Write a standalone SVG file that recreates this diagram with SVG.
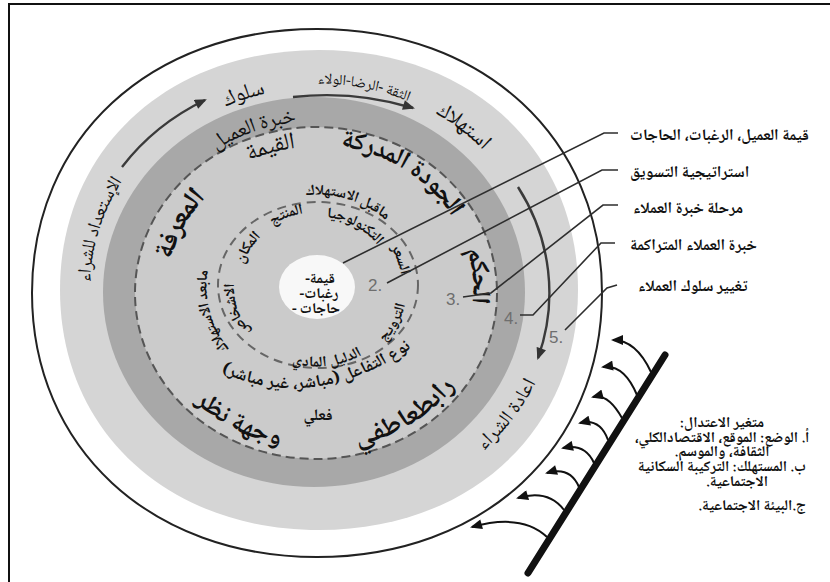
<svg xmlns="http://www.w3.org/2000/svg" xmlns:xlink="http://www.w3.org/1999/xlink" width="830" height="582" viewBox="0 0 830 582">
  <style>
    .ar { font-family: "Noto Naskh Arabic", "Noto Sans Arabic", "DejaVu Sans", sans-serif; fill: #111; }
    .b { font-weight: bold; }
    .mid { text-anchor: middle; dominant-baseline: central; }
    .num { font-family: "Liberation Sans", Arial, sans-serif; font-size: 17px; fill: #6e6e6e; }
    .lead { fill: none; stroke: #2e2e2e; stroke-width: 1.6; }
    .ring-arrow { fill: none; stroke: #3a3a3a; stroke-width: 2.4; marker-end: url(#ah); }
    .wall-arrow { fill: none; stroke: #111; stroke-width: 2; marker-end: url(#ahk); }
  </style>
  <defs>
    <marker id="ah" viewBox="0 0 12 10" refX="10" refY="5" markerWidth="13" markerHeight="10" markerUnits="userSpaceOnUse" orient="auto">
      <path d="M0,0 L12,5 L0,10 z" fill="#333"/>
    </marker>
    <marker id="ahk" viewBox="0 0 12 10" refX="10" refY="5" markerWidth="13" markerHeight="10" markerUnits="userSpaceOnUse" orient="auto">
      <path d="M0,0 L12,5 L0,10 z" fill="#111"/>
    </marker>
    <!-- baseline paths for curved labels -->
    <path id="p-ready" d="M106,376 A231,214 0 0,1 187.8,111.6"/>
    <path id="p-behav" d="M161.4,142.1 A222,206 0 0,1 338.3,83.9"/>
    <path id="p-trust" d="M266.6,85.5 A227.6,208.7 0 0,1 454.6,123.2"/>
    <path id="p-consume" d="M377,84.4 A229,212 0 0,1 524.9,200.1"/>
    <path id="p-rebuy" d="M417.2,488 A237,219.6 0 0,0 553.1,308.1"/>
    <path id="p-exp" d="M184.1,167.7 A186.6,172.8 0 0,1 332,116.8"/>
    <path id="p-value" d="M220.5,170.4 A160.4,148.5 0 0,1 325.4,140.7"/>
    <path id="p-quality" d="M288.9,141.3 A162,150 0 0,1 476.5,263"/>
    <path id="p-judge" d="M463.8,225.6 A162,150 0 0,1 473.5,327.8"/>
    <path id="p-bond" d="M298.6,443.1 A167.5,155 0 0,0 477.8,332.5"/>
    <path id="p-view" d="M161.5,342.9 A166,154 0 0,0 347.2,440.4"/>
    <path id="p-know" d="M162.1,284 A155,143 0 0,1 221.6,176.3"/>
    <path id="p-pre" d="M279.9,198.3 A102.7,95.1 0 0,1 404.8,237.7"/>
    <path id="p-post" d="M250.1,371.7 A113.3,104.9 0 0,1 215.3,240.7"/>
    <path id="p-inter" d="M192,350 Q305,430 438,324"/>
    <path id="p-tech" d="M311.3,214 A78,72.2 0 0,1 388.1,256.4"/>
    <path id="p-prod" d="M261.7,229.1 A82.7,76.6 0 0,1 314.1,209.4"/>
    <path id="p-place" d="M238.1,272.2 A80.3,74.3 0 0,1 266.1,228.5"/>
    <path id="p-people" d="M253.6,339.8 A86,79.6 0 0,1 231.7,275.6"/>
    <path id="p-price" d="M385.4,235.2 A87.7,81.2 0 0,1 404.7,287.8"/>
    <path id="p-promo" d="M370.8,350 A87.6,81.1 0 0,0 404.5,289"/>
    <path id="p-phys" d="M271.9,351.5 A83.9,77.7 0 0,0 378.9,338.5"/>
  </defs>

  <rect width="830" height="582" fill="#fff"/>
  <!-- frame (open at right and bottom) -->
  <path d="M9,582 L9,4 L830,4" fill="none" stroke="#111" stroke-width="2"/>

  <!-- concentric bands -->
  <g id="rings">
    <path id="outer-boundary" d="M602,293 C602,447.4 483.7,557 317,557 C150.3,557 32,447.4 32,293 C32,138.6 150.3,29 317,29 C483.7,29 602,138.6 602,293 Z" fill="#fff" stroke="#222" stroke-width="2"/>
    <path id="band-behaviour" d="M578,290 C578,430.4 470.5,530 319,530 C167.5,530 60,430.4 60,290 C60,149.6 167.5,50 319,50 C470.5,50 578,149.6 578,290 Z" fill="#d5d5d5"/>
    <ellipse id="band-experience" cx="314" cy="292" rx="211" ry="195" fill="#a8a8a8"/>
    <ellipse id="band-evaluation" cx="316" cy="293" rx="181" ry="166" fill="#cbcbcb" stroke="#555" stroke-width="2" stroke-dasharray="9 5"/>
    <ellipse id="band-mix" cx="318" cy="285" rx="100" ry="83" fill="none" stroke="#666" stroke-width="2" stroke-dasharray="9 6"/>
  </g>

  <g id="core">
    <ellipse cx="317" cy="287" rx="38" ry="32" fill="#f8f8f8"/>
    <text class="ar b" font-size="15" direction="rtl" text-anchor="middle" x="320" y="283">قيمة-</text>
    <text class="ar b" font-size="15" direction="rtl" text-anchor="middle" x="319" y="298">رغبات-</text>
    <text class="ar b" font-size="15" direction="rtl" text-anchor="middle" x="316" y="313">حاجات -</text>
  </g>

  <!-- outer band: behaviour stages -->
  <g id="stage-ready"><text class="ar mid" font-size="19"><textPath xlink:href="#p-ready" startOffset="50%">الإستعداد للشراء</textPath></text></g>
  <g id="stage-behaviour"><text class="ar mid" font-size="22"><textPath xlink:href="#p-behav" startOffset="50%">سلوك</textPath></text></g>
  <g id="stage-loyalty"><text class="ar mid" font-size="15"><textPath xlink:href="#p-trust" startOffset="50%">الثقة -الرضا-الولاء</textPath></text></g>
  <g id="stage-consume"><text class="ar mid" font-size="22"><textPath xlink:href="#p-consume" startOffset="50%">استهلاك</textPath></text></g>
  <g id="stage-rebuy"><text class="ar mid" font-size="20"><textPath xlink:href="#p-rebuy" startOffset="50%">اعادة الشراء</textPath></text></g>

  <!-- experience band -->
  <g id="customer-experience"><text class="ar mid" font-size="21"><textPath xlink:href="#p-exp" startOffset="50%">خبرة العميل</textPath></text></g>

  <!-- evaluation band -->
  <g id="eval-value"><text class="ar mid" font-size="24"><textPath xlink:href="#p-value" startOffset="50%">القيمة</textPath></text></g>
  <g id="eval-quality"><text class="ar mid b" font-size="26"><textPath xlink:href="#p-quality" startOffset="50%">الجودة المدركة</textPath></text></g>
  <g id="eval-judgement"><text class="ar mid b" font-size="26"><textPath xlink:href="#p-judge" startOffset="50%">الحكم</textPath></text></g>
  <g id="eval-bond"><text class="ar mid b" font-size="27"><textPath xlink:href="#p-bond" startOffset="50%">رابطعاطفي</textPath></text></g>
  <g id="eval-view"><text class="ar mid b" font-size="26"><textPath xlink:href="#p-view" startOffset="50%">وجهة نظر</textPath></text></g>
  <g id="eval-knowledge"><text class="ar mid b" font-size="28"><textPath xlink:href="#p-know" startOffset="50%">المعرفة</textPath></text></g>
  <g id="phase-pre"><text class="ar mid b" font-size="15"><textPath xlink:href="#p-pre" startOffset="50%">ماقبل الاستهلاك</textPath></text></g>
  <g id="phase-post"><text class="ar mid b" font-size="15"><textPath xlink:href="#p-post" startOffset="50%">مابعد الاستهلاك</textPath></text></g>
  <g id="interaction"><text class="ar mid b" font-size="17" direction="rtl"><textPath xlink:href="#p-inter" startOffset="50%">نوع التفاعل (مباشر، غير مباشر)</textPath></text>
    <text class="ar b" font-size="16" text-anchor="middle" x="318" y="420">فعلي</text></g>

  <!-- marketing mix ring -->
  <g id="mix-tech"><text class="ar mid b" font-size="15"><textPath xlink:href="#p-tech" startOffset="50%">التكنولوجيا</textPath></text></g>
  <g id="mix-product"><text class="ar mid b" font-size="15"><textPath xlink:href="#p-prod" startOffset="50%">المنتج</textPath></text></g>
  <g id="mix-place"><text class="ar mid b" font-size="15"><textPath xlink:href="#p-place" startOffset="50%">المكان</textPath></text></g>
  <g id="mix-people"><text class="ar mid b" font-size="15"><textPath xlink:href="#p-people" startOffset="50%">الاشخاص</textPath></text></g>
  <g id="mix-price"><text class="ar mid b" font-size="15"><textPath xlink:href="#p-price" startOffset="50%">السعر</textPath></text></g>
  <g id="mix-promotion"><text class="ar mid b" font-size="15"><textPath xlink:href="#p-promo" startOffset="50%">الترويج</textPath></text></g>
  <g id="mix-evidence"><text class="ar mid b" font-size="15"><textPath xlink:href="#p-phys" startOffset="50%">الدليل المادي</textPath></text></g>

  <!-- level numbers -->
  <g id="levels">
    <text class="num" x="368" y="291">2.</text>
    <text class="num" x="446" y="305">3.</text>
    <text class="num" x="504" y="324">4.</text>
    <text class="num" x="549" y="343">5.</text>
  </g>

  <!-- legend labels -->
  <g id="legend">
    <text class="ar b" font-size="16" x="630" y="140">قيمة العميل، الرغبات، الحاجات</text>
    <text class="ar b" font-size="16" x="630" y="177">استراتيجية التسويق</text>
    <text class="ar b" font-size="16" x="633" y="213">مرحلة خبرة العملاء</text>
    <text class="ar b" font-size="16" x="630" y="250">خبرة العملاء المتراكمة</text>
    <text class="ar b" font-size="16" x="638" y="291">تغيير سلوك العملاء</text>
  </g>

  <!-- moderating variables -->
  <g id="moderators">
    <text class="ar b" font-size="15" direction="rtl" text-anchor="middle" x="722" y="427">متغير الاعتدال:</text>
    <text class="ar b" font-size="15" direction="rtl" text-anchor="middle" x="722" y="442">أ. الوضع: الموقع، الاقتصادالكلي،</text>
    <text class="ar b" font-size="15" direction="rtl" text-anchor="middle" x="722" y="456">الثقافة، والموسم.</text>
    <text class="ar b" font-size="15" direction="rtl" text-anchor="middle" x="722" y="471">ب. المستهلك: التركيبة السكانية</text>
    <text class="ar b" font-size="15" direction="rtl" text-anchor="middle" x="737" y="486">الاجتماعية.</text>
    <text class="ar b" font-size="15" direction="rtl" text-anchor="middle" x="752" y="510">ج.البيئة الاجتماعية.</text>
  </g>

  <g id="barrier">
    <line x1="665" y1="355" x2="528" y2="573" stroke="#111" stroke-width="7" stroke-linecap="round"/>
  </g>

  <g id="connectors">
    <!-- stage flow arrows -->
    <path class="ring-arrow" d="M122,167 A238,215 0 0,1 205,100"/>
    <path class="ring-arrow" d="M293,97 A245,198 0 0,1 413,108"/>
    <path class="ring-arrow" d="M518,187 A235,212 0 0,1 538,358"/>
    <!-- legend leaders -->
    <path class="lead" d="M618,133 L604,133 L343,263"/>
    <path class="lead" d="M618,170 L602,170 L387,283"/>
    <path class="lead" d="M618,205 L603,205 L491,293 L463,297"/>
    <path class="lead" d="M615,243 L601,243 L533,315 L520,315"/>
    <path class="lead" d="M617,285 L607,288 L565,330"/>
    <!-- moderating influences -->
    <path class="wall-arrow" d="M651,372 Q636,340 613,340"/>
    <path class="wall-arrow" d="M637,395 Q624,364 603,367"/>
    <path class="wall-arrow" d="M622,418 Q608,393 593,397"/>
    <path class="wall-arrow" d="M608,440 Q600,418 580,423"/>
    <path class="wall-arrow" d="M594,463 Q585,443 563,448"/>
    <path class="wall-arrow" d="M579,487 Q570,466 547,473"/>
    <path class="wall-arrow" d="M564,510 Q548,489 518,498"/>
    <path class="wall-arrow" d="M547,537 Q522,513 472,527"/>
  </g>
</svg>
